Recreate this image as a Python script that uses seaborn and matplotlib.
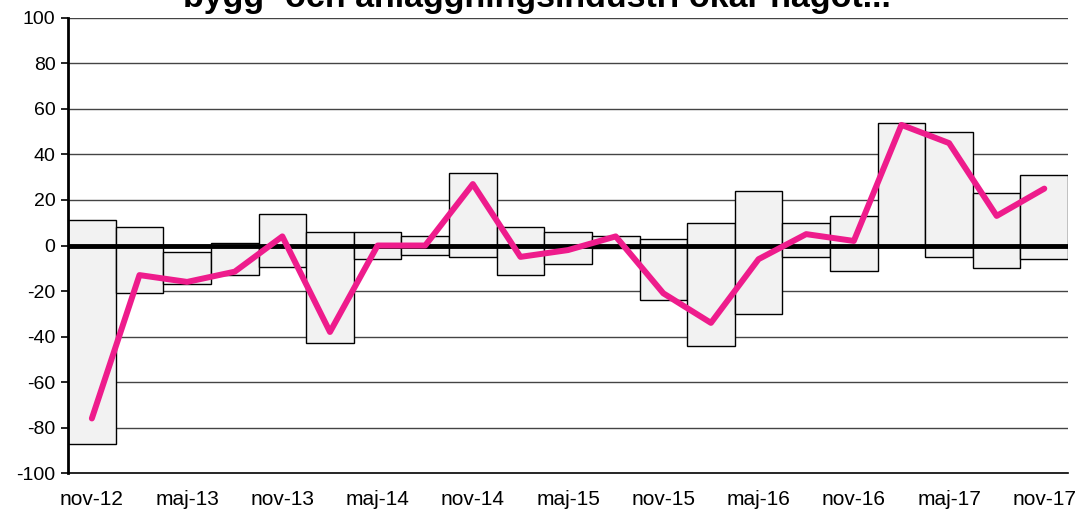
import numpy as np
import pandas as pd
import matplotlib
matplotlib.use("Agg")
import matplotlib.pyplot as plt
import seaborn as sns

# quarterly periods, nov-12 .. nov-17
periods = ['nov-12', 'feb-13', 'maj-13', 'aug-13', 'nov-13', 'feb-14', 'maj-14', 'aug-14',
           'nov-14', 'feb-15', 'maj-15', 'aug-15', 'nov-15', 'feb-16', 'maj-16', 'aug-16',
           'nov-16', 'feb-17', 'maj-17', 'aug-17', 'nov-17']
bar_low = [-87, -21, -17, -13, -9.5, -43, -6, -4, -5, -13, -8, -1, -24, -44, -30, -5,
           -11, -0.5, -5, -10, -6]
bar_high = [11, 8, -3, 1, 14, 6, 6, 4, 32, 8, 6, 4, 3, 10, 24, 10, 13, 54, 50, 23, 31]
index_line = [-76, -13, -16, -11.5, 4, -38, 0, 0, 27, -5, -2, 4, -21, -34, -6, 5,
              2, 53, 45, 13, 25]

df = pd.DataFrame({'period': periods, 'low': bar_low, 'high': bar_high, 'value': index_line})
df['pos'] = np.arange(len(df))

sns.set_theme(style='white')
plt.rcParams['font.family'] = ['Liberation Sans', 'DejaVu Sans']
plt.rcParams['axes.unicode_minus'] = False

fig = plt.figure(figsize=(10.8, 5.12), dpi=100)
ax = fig.add_axes([0.063, 0.076, 0.926, 0.889])

# horizontal grid
for yv in range(-80, 101, 20):
    ax.axhline(yv, color='#444444', lw=1, zorder=0)

# floating bars (range)
ax.bar(df['pos'], df['high'] - df['low'], bottom=df['low'], width=1.0,
       color='#f2f2f2', edgecolor='black', linewidth=1, zorder=1)

ax.axhline(0, color='black', lw=3.5, zorder=2)

sns.lineplot(data=df, x='pos', y='value', color='#ee1c8c', lw=4.3, ax=ax, zorder=3)

ax.set_xlim(-0.5, len(df) - 0.5)
ax.set_ylim(-100, 100)
ax.set_yticks(range(-100, 101, 20))
ax.set_xticks(df['pos'][::2])
ax.set_xticklabels(df['period'][::2], fontsize=15)
ax.tick_params(axis='y', labelsize=14, length=5, width=1.2, direction='out', left=True,
               pad=4, labelcolor='black', color='black')
ax.tick_params(axis='x', length=0, pad=12, labelcolor='black')
ax.set_xlabel('')
ax.set_ylabel('')

for s in ['top', 'right']:
    ax.spines[s].set_visible(False)
ax.spines['left'].set_color('black')
ax.spines['left'].set_linewidth(2)
ax.spines['bottom'].set_color('black')
ax.spines['bottom'].set_linewidth(1.2)

fig.text(0.497, 0.986, 'bygg- och anläggningsindustri ökar något...', ha='center',
         va='baseline', fontsize=24.5, fontweight='bold', color='black')

fig.savefig('out.png', dpi=100)
